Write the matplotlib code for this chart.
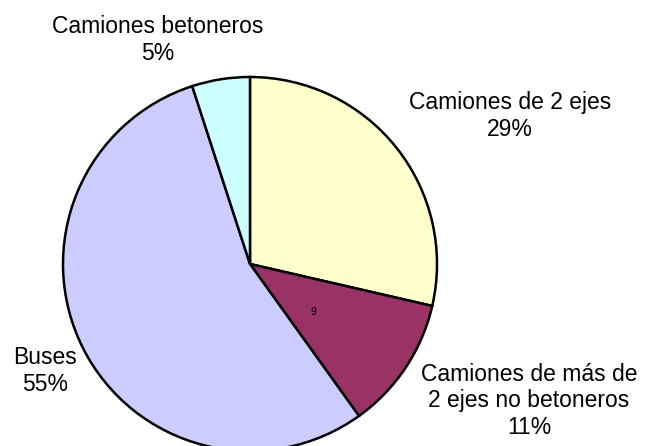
import matplotlib.pyplot as plt

plt.rcParams['font.family'] = ['Liberation Sans', 'DejaVu Sans']

categories = ['Camiones de 2 ejes', 'Camiones de más de\n2 ejes no betoneros', 'Buses', 'Camiones betoneros']
shares = [28.6, 11.5, 54.9, 5.0]
pct_labels = ['29%', '11%', '55%', '5%']
colors = ['#FFFFCC', '#993366', '#CCCCFF', '#CCFFFF']

# label centres in pixels (x, y from top)
label_px = [(510, 116), (529, 401), (45, 371), (158, 40)]

W, H = 646, 446
cx, cy, r = 250, 264, 187

fig = plt.figure(figsize=(W / 100, H / 100), dpi=100)
ax = fig.add_axes([(cx - r) / W, (H - cy - r) / H, 2 * r / W, 2 * r / H])
ax.pie(shares, colors=colors, startangle=90, counterclock=False, radius=1,
       wedgeprops=dict(edgecolor='black', linewidth=1.8))
ax.set_xlim(-1, 1)
ax.set_ylim(-1, 1)
ax.set_aspect('equal')
ax.axis('off')

for cat, pct, (px, py) in zip(categories, pct_labels, label_px):
    fig.text(px / W, 1 - py / H, cat + '\n' + pct, ha='center', va='center',
             fontsize=16.5, linespacing=1.22)

fig.text(313 / W, 1 - 312 / H, '9', ha='center', va='center', fontsize=7.5)

fig.savefig('out.png', dpi=100)
